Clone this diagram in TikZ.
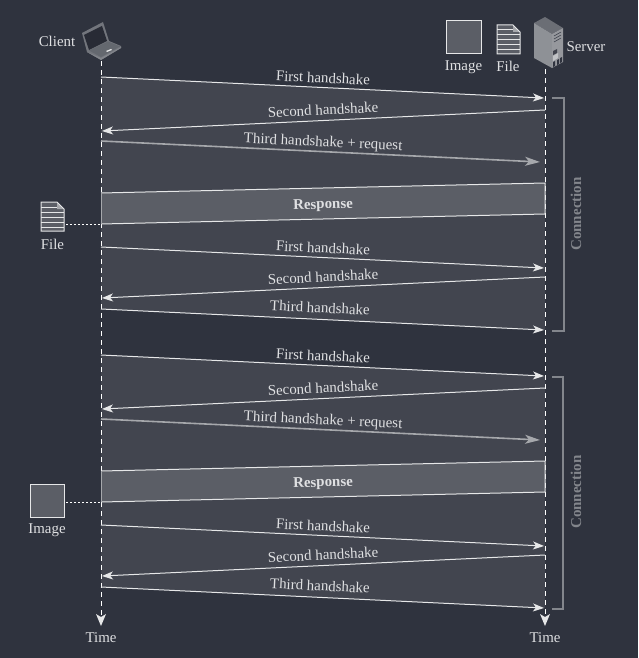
\documentclass[tikz,border=0pt]{standalone}
\usepackage{fontspec}
\setmainfont{Liberation Serif}
\usetikzlibrary{arrows.meta}
\definecolor{bgcol}{HTML}{2F333E}
\definecolor{bandcol}{HTML}{42454F}
\definecolor{respcol}{HTML}{5B5E66}
\definecolor{linecol}{HTML}{E6E7E8}
\definecolor{greycol}{HTML}{A6A8AC}
\definecolor{bracketcol}{HTML}{83868C}
\definecolor{txtcol}{HTML}{DFE0E2}
\tikzset{
    lbl/.style={text=txtcol, font=\fontsize{14.9}{16}\selectfont, inner sep=2pt},
    resp/.style={lbl, sloped, yshift=-2pt, font=\fontsize{14.9}{16}\selectfont\bfseries},
    msg/.style={draw=linecol, line width=1pt, -{Stealth[length=11pt, width=8pt, inset=3pt]}},
    msgreq/.style={draw=greycol, line width=1.6pt, -{Stealth[length=15pt, width=9pt, inset=4pt]}},
    edge/.style={draw=linecol, line width=1pt},
    lifeline/.style={draw=white, line width=1pt, dash pattern=on 5pt off 4pt},
    lifetip/.style={draw=none, fill=linecol},
    link/.style={draw=white, line width=1pt, dash pattern=on 2pt off 2pt},
    bracket/.style={draw=bracketcol, line width=1.4pt},
    conn/.style={text=bracketcol, font=\fontsize{15}{16}\selectfont\bfseries, rotate=90},
    imgbox/.style={fill=respcol, draw=linecol, line width=1pt},
    fileicon/.pic={
        \fill[respcol] (0,0) -- (16,0) -- (23,7) -- (23,29) -- (0,29) -- cycle;
        \fill[greycol] (16,0) -- (23,7) -- (16,7) -- cycle;
        \draw[linecol, line width=1pt] (16,0) -- (0,0) -- (0,29) -- (23,29) -- (23,7) -- (16,0);
        \draw[linecol, line width=1pt] (0,5) -- (16,5) (0,10) -- (23,10) (0,15) -- (23,15) (0,20) -- (23,20) (0,25) -- (23,25);
    }
}
\begin{document}
\begin{tikzpicture}[x=1pt, y=-1pt]
    \useasboundingbox (0,0) rectangle (638,658);
    \fill[bgcol] (0,0) rectangle (638,658);
    % shaded bands
    \fill[bandcol] (101,77) -- (545,98) -- (545,330) -- (101,309) -- cycle;
    \fill[bandcol] (101,355) -- (545,376) -- (545,608) -- (101,587) -- cycle;
    \fill[respcol] (101,193) -- (545,183) -- (545,214) -- (101,224) -- cycle;
    \fill[respcol] (101,471) -- (545,461) -- (545,492) -- (101,502) -- cycle;

    % lifelines
    \coordinate (clientTop) at (101,61);
    \coordinate (clientEnd) at (101,618);
    \coordinate (serverTop) at (545,69);
    \coordinate (serverEnd) at (545,618);
    \draw[lifeline] (clientTop) -- (clientEnd);
    \draw[lifeline] (serverTop) -- (serverEnd);
    \fill[lifetip] (96,614) -- (101,617) -- (106,614) -- (101,626) -- cycle;
    \fill[lifetip] (540,614) -- (545,617) -- (550,614) -- (545,626) -- cycle;
    \node[lbl] (clientTime) at (101,637.5) {Time};
    \node[lbl] (serverTime) at (545,637.5) {Time};

    % first connection
    \coordinate (a1) at (101,77);   \coordinate (b1) at (544,98);
    \coordinate (b2) at (545,110);  \coordinate (a2) at (102,131);
    \coordinate (a3) at (101,141);  \coordinate (b3) at (540,162);
    \coordinate (a4) at (101,193);  \coordinate (b4) at (545,183);
    \coordinate (a5) at (101,224);  \coordinate (b5) at (545,214);
    \coordinate (a6) at (101,247);  \coordinate (b6) at (544,268);
    \coordinate (b7) at (545,277);  \coordinate (a7) at (102,298);
    \coordinate (a8) at (101,309);  \coordinate (b8) at (544,330);
    \draw[msg] (a1) -- node[lbl, sloped, above=2pt] (first1) {First handshake} (b1);
    \draw[msg] (b2) -- node[lbl, sloped, above=3pt] (second1) {Second handshake} (a2);
    \draw[msgreq] (a3) -- node[lbl, sloped, above=-1pt, pos=0.505] (third1) {Third handshake + request} (b3);
    \draw[edge] (a4) -- (b4) -- (b5) -- (a5);
    \draw[draw=greycol, line width=1pt] (a4) -- (a5);
    \path (a4) -- coordinate (midA) (a5);
    \path (b4) -- coordinate (midB) (b5);
    \path (midA) -- node[resp] (resp1) {Response} (midB);
    \draw[msg] (a6) -- node[lbl, sloped, above=2pt] (first2) {First handshake} (b6);
    \draw[msg] (b7) -- node[lbl, sloped, above=3pt] (second2) {Second handshake} (a7);
    \draw[msg] (a8) -- node[lbl, sloped, above=4pt, pos=0.493] (third2) {Third handshake} (b8);

    % second connection
    \coordinate (c1) at (101,355);  \coordinate (d1) at (544,376);
    \coordinate (d2) at (545,388);  \coordinate (c2) at (102,409);
    \coordinate (c3) at (101,419);  \coordinate (d3) at (540,440);
    \coordinate (c4) at (101,471);  \coordinate (d4) at (545,461);
    \coordinate (c5) at (101,502);  \coordinate (d5) at (545,492);
    \coordinate (c6) at (101,525);  \coordinate (d6) at (544,546);
    \coordinate (d7) at (545,555);  \coordinate (c7) at (102,576);
    \coordinate (c8) at (101,587);  \coordinate (d8) at (544,608);
    \draw[msg] (c1) -- node[lbl, sloped, above=2pt] (first3) {First handshake} (d1);
    \draw[msg] (d2) -- node[lbl, sloped, above=3pt] (second3) {Second handshake} (c2);
    \draw[msgreq] (c3) -- node[lbl, sloped, above=-1pt, pos=0.505] (third3) {Third handshake + request} (d3);
    \draw[edge] (c4) -- (d4) -- (d5) -- (c5);
    \draw[draw=greycol, line width=1pt] (c4) -- (c5);
    \path (c4) -- coordinate (midC) (c5);
    \path (d4) -- coordinate (midD) (d5);
    \path (midC) -- node[resp] (resp2) {Response} (midD);
    \draw[msg] (c6) -- node[lbl, sloped, above=2pt] (first4) {First handshake} (d6);
    \draw[msg] (d7) -- node[lbl, sloped, above=3pt] (second4) {Second handshake} (c7);
    \draw[msg] (c8) -- node[lbl, sloped, above=4pt, pos=0.493] (third4) {Third handshake} (d8);

    % brackets
    \coordinate (br1a) at (552,98);  \coordinate (br1b) at (564,98);
    \coordinate (br1c) at (564,331); \coordinate (br1d) at (552,331);
    \coordinate (br2a) at (552,377); \coordinate (br2b) at (563,377);
    \coordinate (br2c) at (563,609); \coordinate (br2d) at (552,609);
    \draw[bracket] (br1a) -- (br1b) -- (br1c) -- (br1d);
    \draw[bracket] (br2a) -- (br2b) -- (br2c) -- (br2d);
    \node[conn] (conn1) at (576,214) {Connection};
    \node[conn] (conn2) at (576,492) {Connection};

    % resources on the server side
    \node[lbl] (server) at (586,47) {Server};
    \draw[imgbox] (446,21) rectangle (481,54);
    \node[lbl] (imgTop) at (463.5,67) {Image};
    \pic at (497,25) {fileicon};
    \node[lbl] (fileTop) at (508,66.5) {File};

    % resources on the client side
    \node[lbl] (client) at (57,41) {Client};
    \pic at (41,202) {fileicon};
    \node[lbl] (fileLeft) at (52.5,244) {File};
    \coordinate (fileEnd) at (66,224);
    \draw[link] (fileEnd) -- (a5);
    \draw[imgbox] (30.5,484.5) rectangle (64.5,517);
    \node[lbl] (imgLeft) at (47,530) {Image};
    \coordinate (imgEnd) at (66,502);
    \draw[link] (imgEnd) -- (c5);

    % laptop
    \fill[bracketcol!80!bgcol] (82,33) -- (103,22) -- (109,41) -- (121,46) -- (121,48) -- (101,60) -- (87,52) -- cycle;
    \fill[bgcol!85!black] (84,35) -- (102,26) -- (107,41) -- (89,50) -- cycle;
    \fill[greycol!45!bgcol] (89,50.5) -- (108,41.5) -- (120,46.5) -- (101,57) -- cycle;
    \fill[greycol!70!bgcol] (87,52) -- (101,58) -- (121,47) -- (121,48) -- (101,60) -- cycle;
    \fill[linecol] (106,51) -- (111,49) -- (112,50) -- (107,52) -- cycle;

    % server
    \fill[respcol!90!white] (534,23) -- (545,17) -- (563,28) -- (552,34) -- cycle;
    \fill[greycol!80!bgcol] (534,23) -- (552,34) -- (552,68) -- (534,58) -- cycle;
    \fill[bracketcol!85!white] (552,34) -- (563,28) -- (563,62) -- (552,68) -- cycle;
    \draw[bgcol, line width=0.5pt] (554,36) -- (561,32) (554,39) -- (561,35) (554,42) -- (561,38);
    \fill[bgcol!60!respcol] (553,51) -- (557,49) -- (557,53) -- (553,55) -- cycle;
    \fill[linecol!80!bgcol] (553,56) -- (558,53) -- (558,58) -- (553,61) -- cycle;
    \fill[bgcol] (553,62) -- (555,61) -- (555,66) -- (553,67) -- cycle;
    \fill[bgcol] (557,60) -- (559,59) -- (559,64) -- (557,65) -- cycle;
    \fill[bgcol] (560,58) -- (562,57) -- (562,62) -- (560,63) -- cycle;
\end{tikzpicture}
\end{document}
